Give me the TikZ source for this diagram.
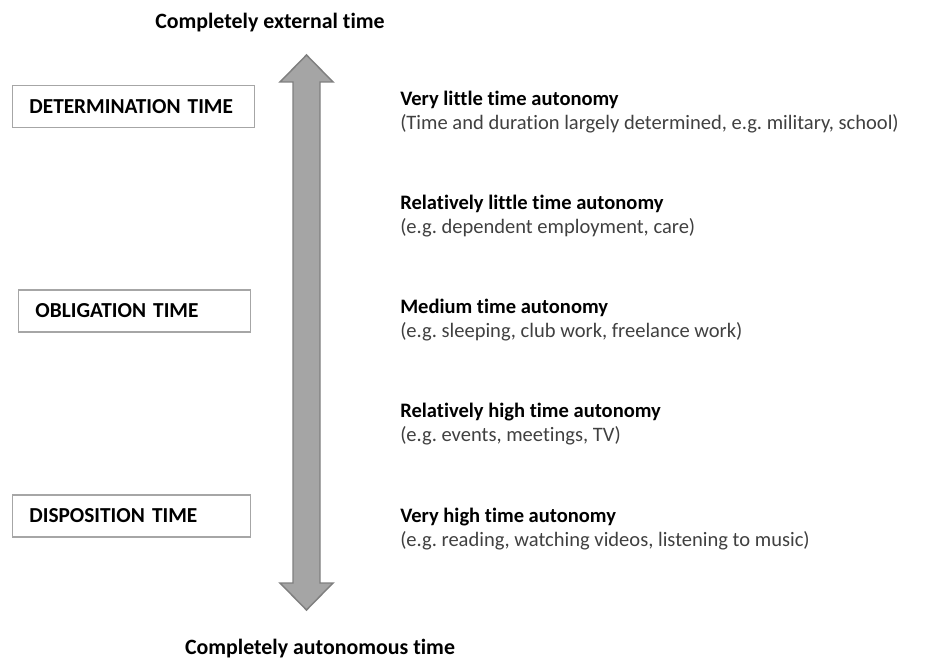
\documentclass[tikz,border=0pt]{standalone}
\usepackage{fontspec}
\setmainfont{Carlito}[Ligatures=NoCommon]
\usetikzlibrary{positioning}
\frenchspacing

\definecolor{boxgray}{HTML}{A6A6A6}
\definecolor{shaftgray}{HTML}{A5A5A5}
\definecolor{shaftline}{HTML}{7F7F7F}
\definecolor{exgray}{HTML}{404040}

\tikzset{
  timebox/.style={draw=boxgray,line width=1.1pt,anchor=west,inner xsep=12.5pt,
    minimum height=31.5pt,text width=#1,align=left,font=\fontsize{16}{18}\selectfont\bfseries},
  autonomy/.style={anchor=west,align=left,inner sep=0pt,font=\fontsize{15.4}{18}\selectfont},
  endlabel/.style={inner sep=0pt,font=\fontsize{16.4}{18}\selectfont\bfseries}
}

\begin{document}
\begin{tikzpicture}[x=0.75pt,y=-0.75pt]
  \useasboundingbox (0,0) rectangle (935,659);

  % the scale arrow
  \filldraw[fill=shaftgray,draw=shaftline,line width=1.1pt,line join=miter]
    (306.5,55) -- (333,82) -- (320,82) -- (320,583) -- (333,583) -- (306.5,610)
    -- (280,583) -- (293,583) -- (293,82) -- (280,82) -- cycle;

  \node[endlabel] (external) at (270,23) {Completely external time};
  \node[endlabel] (autonomous) at (320,649) {Completely autonomous time};

  % time categories
  \node[timebox=156.5pt] (determination) at (12,106.5) {DETERMINATION TIME};
  \node[timebox=149pt] (obligation) at (18,311) {OBLIGATION TIME};
  \node[timebox=153.5pt] (disposition) at (12,516) {DISPOSITION TIME};

  % degrees of autonomy
  \node[autonomy] (vlittle) at (400,112)
    {\textbf{Very little time autonomy}\\\textcolor{exgray}{(Time and duration largely determined, e.g. military, school)}};
  \node[autonomy] (rlittle) at (400,216)
    {\textbf{Relatively little time autonomy}\\\textcolor{exgray}{(e.g. dependent employment, care)}};
  \node[autonomy] (medium) at (400,320)
    {\textbf{Medium time autonomy}\\\textcolor{exgray}{(e.g. sleeping, club work, freelance work)}};
  \node[autonomy] (rhigh) at (400,424.5)
    {\textbf{Relatively high time autonomy}\\\textcolor{exgray}{(e.g. events, meetings, TV)}};
  \node[autonomy] (vhigh) at (400,529.5)
    {\textbf{Very high time autonomy}\\\textcolor{exgray}{(e.g. reading, watching videos, listening to music)}};
\end{tikzpicture}
\end{document}
